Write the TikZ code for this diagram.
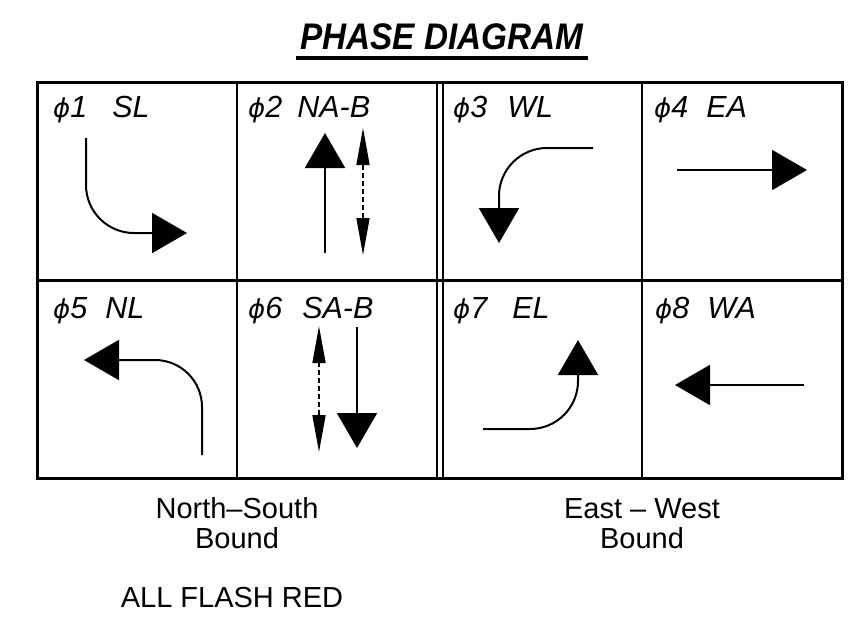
\documentclass[tikz,border=0pt]{standalone}
\usepackage{fontspec}
\setmainfont{Liberation Sans}
\newfontfamily\phifont{DejaVu Sans}
\usetikzlibrary{arrows.meta}
\newcommand{\phs}{{\phifont\fontsize{26}{28}\selectfont\itshape ϕ}}
\begin{document}
\begin{tikzpicture}[x=1pt,y=-1pt,
  outer/.style={line width=3pt},
  inner/.style={line width=2.5pt},
  dbl/.style={line width=2pt},
  lbl/.style={anchor=base west,inner sep=0pt,font=\fontsize{30.5}{32}\selectfont\itshape},
  mv/.style={line width=2pt,line join=round},
  bighead/.style={-{Triangle[length=35pt,width=40pt]}},
  ped/.style={line width=1.6pt,dash pattern=on 5pt off 3pt,
     {Triangle[length=37pt,width=13pt]}-{Triangle[length=37pt,width=13pt]}},
  caption/.style={inner sep=0pt,anchor=base,
     font=\fontsize{29}{30}\selectfont}]
\useasboundingbox (0,0) rectangle (866,624);
% title
\node[anchor=base,inner sep=0pt,xscale=0.9,
  font=\fontsize{37}{40}\selectfont\bfseries\itshape] (title) at (442,49) {PHASE DIAGRAM};
\draw[line width=4pt] (296,58) -- (588,58);
% grid
\draw[outer] (37,82) rectangle (842,478);
\draw[outer] (37,280) -- (842,280);
\draw[inner] (237,82) -- (237,478);
\draw[inner] (642,82) -- (642,478);
\draw[dbl] (437,82) -- (437,478);
\draw[dbl] (443,82) -- (443,478);
% labels
\node[lbl] (l1) at (53,117) {\phs1\hspace{25pt}SL};
\node[lbl] (l2) at (248,117) {\phs2\hspace{15pt}NA-B};
\node[lbl] (l3) at (453,117) {\phs3\hspace{20pt}WL};
\node[lbl] (l4) at (654,117) {\phs4\hspace{18pt}EA};
\node[lbl] (l5) at (53,318) {\phs5\hspace{18pt}NL};
\node[lbl] (l6) at (248,318) {\phs6\hspace{20pt}SA-B};
\node[lbl] (l7) at (453,318) {\phs7\hspace{25pt}EL};
\node[lbl] (l8) at (655,318) {\phs8\hspace{18pt}WA};
% cell 1: right turn
\draw[mv,bighead,rounded corners=48pt] (86,138) -- (86,233) -- (187,233);
% cell 2
\draw[mv,bighead] (325,253) -- (325,133);
\draw[ped] (363,255) -- (363,128);
% cell 3
\draw[mv,bighead,rounded corners=48pt] (593,148) -- (499,148) -- (499,243);
% cell 4
\draw[mv,bighead] (677,170) -- (807,170);
% cell 5
\draw[mv,bighead,rounded corners=47pt] (202,455) -- (202,360) -- (84,360);
% cell 6
\draw[ped] (319,452) -- (319,326);
\draw[mv,bighead] (357,327) -- (357,448);
% cell 7
\draw[mv,bighead,rounded corners=48pt] (483,429) -- (578,429) -- (578,340);
% cell 8
\draw[mv,bighead] (804,385) -- (675,385);
% captions
\node[caption] (ns) at (237,518) {North–South};
\node[caption] (nsb) at (237,548) {Bound};
\node[caption] (ew) at (642,518) {East – West};
\node[caption] (ewb) at (642,548) {Bound};
\node[caption] (afr) at (232,607) {ALL FLASH RED};
\end{tikzpicture}
\end{document}
